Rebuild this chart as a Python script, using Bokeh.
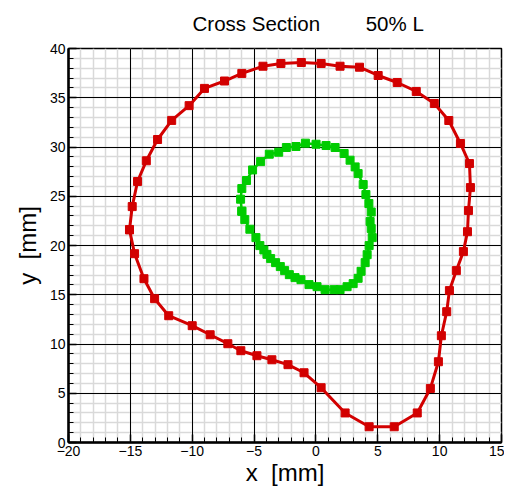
from bokeh.plotting import figure
from bokeh.models import Range1d, ColumnDataSource, SingleIntervalTicker, Grid
from bokeh.embed import file_html
from bokeh.resources import INLINE

# Outer contour (red)
outer_x = [-15.07, -14.85, -14.42, -13.71, -12.80, -11.66, -10.25, -9.01, -7.39, -5.99,
           -4.28, -2.83, -1.18, 0.42, 1.95, 3.52, 5.03, 6.57, 8.11, 9.57,
           10.74, 11.68, 12.41, 12.49, 12.33, 12.25, 11.92, 11.35, 10.79, 10.57,
           10.14, 9.90, 9.25, 8.19, 6.33, 4.30, 2.36, 0.42, -0.96, -2.26,
           -3.56, -4.77, -6.07, -7.12, -8.55, -10.00, -11.90, -13.04, -13.90, -14.66,
           -15.07]
outer_y = [21.60, 23.95, 26.50, 28.60, 30.76, 32.70, 34.20, 35.95, 36.70, 37.47,
           38.20, 38.48, 38.58, 38.48, 38.20, 38.10, 37.26, 36.55, 35.64, 34.42,
           32.69, 30.36, 28.32, 25.88, 23.55, 21.40, 19.38, 17.45, 15.42, 13.28,
           10.84, 8.20, 5.49, 3.00, 1.60, 1.60, 3.00, 5.56, 7.08, 7.90,
           8.40, 8.81, 9.32, 10.03, 10.94, 11.86, 12.87, 14.60, 16.63, 19.17,
           21.60]

# Inner contour (green)
inner_x = [-5.99, -6.09, -5.99, -5.61, -5.12, -4.47, -3.77, -3.01, -2.39, -1.61,
           -0.85, 0.01, 0.82, 1.55, 2.28, 2.76, 3.17, 3.41, 3.82, 4.04,
           4.28, 4.47, 4.38, 4.47, 4.55, 4.30, 4.14, 3.98, 3.65, 3.41,
           3.01, 2.52, 1.95, 1.47, 0.74, 0.09, -0.56, -1.21, -1.69, -2.15,
           -2.53, -2.88, -3.26, -3.66, -3.96, -4.21, -4.53, -4.85, -5.34, -5.75,
           -5.99]
inner_y = [23.48, 24.70, 25.78, 26.60, 27.67, 28.52, 29.27, 29.47, 29.95, 30.05,
           30.39, 30.28, 30.15, 29.95, 29.34, 28.66, 27.98, 27.30, 26.19, 25.17,
           24.26, 23.40, 22.43, 21.72, 20.80, 19.99, 19.07, 18.26, 17.38, 16.67,
           16.13, 15.82, 15.52, 15.52, 15.52, 15.82, 16.03, 16.53, 16.74, 17.04,
           17.45, 17.86, 18.26, 18.67, 19.10, 19.55, 19.99, 20.80, 21.65, 22.63,
           23.48]

NB = "\u00a0"
title_text = "Cross Section" + NB * 8 + "50% L"
x_label = "x" + NB * 2 + "[mm]"
y_label = "y" + NB * 2 + "[mm]"

FONT = "Liberation Sans"
RED = "#d20000"
GREEN = "#00cc00"

p = figure(width=504, height=488, x_range=Range1d(-20, 15), y_range=Range1d(0, 40),
           output_backend="svg", toolbar_location=None,
           min_border_left=68, min_border_right=3, min_border_top=48, min_border_bottom=30)

p.background_fill_color = "white"
p.outline_line_color = "black"
p.outline_line_width = 1.5

p.title.text = title_text
p.title.text_font = FONT
p.title.text_font_size = "20.5px"
p.title.text_font_style = "normal"
p.title.text_color = "black"
p.title.align = "left"
p.title.offset = 124
p.title.vertical_align = "top"
p.title.standoff = 23

xt = SingleIntervalTicker(interval=5, num_minor_ticks=5)
yt = SingleIntervalTicker(interval=5, num_minor_ticks=5)
p.xaxis.ticker = xt
p.yaxis.ticker = yt

for ax in (p.xaxis[0], p.yaxis[0]):
    ax.axis_line_width = 2.5
    ax.axis_line_color = "black"
    ax.major_tick_in = 8
    ax.major_tick_out = 0
    ax.minor_tick_in = 5
    ax.minor_tick_out = 0
    ax.major_tick_line_width = 1.5
    ax.minor_tick_line_width = 1
    ax.major_label_text_font = FONT
    ax.major_label_text_font_size = "14px"
    ax.major_label_text_color = "black"
    ax.axis_label_text_font = FONT
    ax.axis_label_text_font_size = "24px"
    ax.axis_label_text_font_style = "normal"
    ax.axis_label_text_color = "black"

p.xaxis.axis_label = x_label
p.yaxis.axis_label = y_label
p.xaxis.major_label_standoff = 3
p.xaxis.axis_label_standoff = 0
p.yaxis.major_label_standoff = 3
p.yaxis.axis_label_standoff = 6

# minor grid (drawn first)
for g in (p.xgrid[0], p.ygrid[0]):
    g.grid_line_color = None
    g.minor_grid_line_color = "#d9d9d9"
    g.minor_grid_line_width = 1.5

# major grid on top of minor grid
p.add_layout(Grid(dimension=0, ticker=xt, grid_line_color="black", grid_line_width=1))
p.add_layout(Grid(dimension=1, ticker=yt, grid_line_color="black", grid_line_width=1))

src_o = ColumnDataSource(dict(x=outer_x, y=outer_y))
src_i = ColumnDataSource(dict(x=inner_x, y=inner_y))

p.line("x", "y", source=src_o, line_color=RED, line_width=3)
p.scatter("x", "y", source=src_o, marker="square", size=8, fill_color=RED, line_color=RED)
p.line("x", "y", source=src_i, line_color=GREEN, line_width=2.5)
p.scatter("x", "y", source=src_i, marker="square", size=8, fill_color=GREEN, line_color=GREEN)

open("out.html", "w").write(file_html(p, INLINE))
